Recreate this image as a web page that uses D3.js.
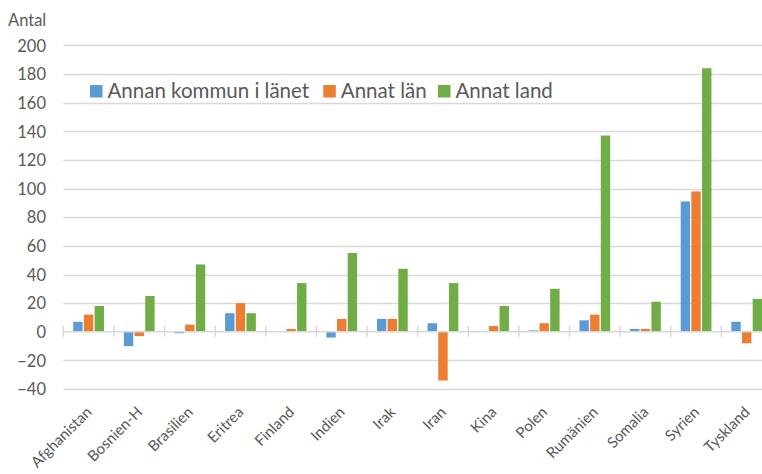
<!DOCTYPE html>
<html><head><meta charset="utf-8">
<script src="https://cdn.jsdelivr.net/npm/d3@7"></script>
<style>body{margin:0;background:#fff}svg{display:block}</style>
</head><body>
<svg id="c" width="762" height="474"></svg>
<script>
const categories = ["Afghanistan","Bosnien-H","Brasilien","Eritrea","Finland","Indien","Irak","Iran","Kina","Polen","Rumänien","Somalia","Syrien","Tyskland"];
const seriesNames = ["Annan kommun i länet","Annat län","Annat land"];
const annanKommun = [7,-10,-1,13,0,-4,9,6,0,1,8,2,91,7];
const annatLan =    [12,-3,5,20,2,9,9,-34,4,6,12,2,98,-8];
const annatLand =   [18,25,47,13,34,55,44,34,18,30,137,21,184,23];
const yTicks = [-40,-20,0,20,40,60,80,100,120,140,160,180,200];
const colors = ["#5B9BD5","#ED7D31","#70AD47"];
const seriesValues = [annanKommun, annatLan, annatLand];

const svg = d3.select("#c");
const font = "Lato, 'Open Sans', sans-serif";
const textCol = "#595959";

const y = d3.scaleLinear().domain([-40,200]).range([389.1,45.3]);
const x = d3.scaleBand().domain(categories).range([63.3,772]).paddingInner(0).paddingOuter(0);
const xi = d3.scaleBand().domain(seriesNames).range([9.3, x.bandwidth()-9.3]).paddingInner(0.12).paddingOuter(0.06);

// gridlines
svg.append("g").selectAll("line").data(yTicks.filter(d=>d!==0)).join("line")
  .attr("x1",63.3).attr("x2",762).attr("y1",d=>Math.round(y(d))+0.5).attr("y2",d=>Math.round(y(d))+0.5)
  .attr("stroke","#D9D9D9").attr("stroke-width",1.3);

// y axis labels
const yAxis = d3.axisLeft(y).tickValues(yTicks).tickSize(0).tickPadding(0);
const ya = svg.append("g").attr("transform","translate(46,0)").call(yAxis);
ya.select(".domain").remove();
ya.selectAll("text").attr("font-family",font).attr("font-size",16.5).attr("fill",textCol).attr("dy","0.35em");

svg.append("text").attr("x",8).attr("y",26).text("Antal")
  .attr("font-family",font).attr("font-size",16.5).attr("fill",textCol);

// bars
const data = [];
categories.forEach((c,i)=>seriesNames.forEach((s,j)=>data.push({c,s,j,v:seriesValues[j][i]})));
svg.append("g").selectAll("rect").data(data).join("rect")
  .attr("x",d=>x(d.c)+xi(d.s)).attr("width",xi.bandwidth())
  .attr("y",d=>y(Math.max(0,d.v))).attr("height",d=>Math.abs(y(d.v)-y(0)))
  .attr("fill",d=>colors[d.j]);

// zero axis with ticks
const xAxis = d3.axisBottom(x).tickSize(0).tickFormat("");
const xa = svg.append("g").attr("transform",`translate(0,${y(0)})`).call(xAxis);
xa.select(".domain").remove();
svg.append("line").attr("x1",63.3).attr("x2",762).attr("y1",y(0)).attr("y2",y(0))
  .attr("stroke","#D9D9D9").attr("stroke-width",1.6);
svg.append("g").selectAll("line").data(categories).join("line")
  .attr("x1",d=>x(d)).attr("x2",d=>x(d)).attr("y1",y(0)-6).attr("y2",y(0)+5)
  .attr("stroke","#D9D9D9").attr("stroke-width",1.5);

// category labels
svg.append("g").selectAll("text").data(categories).join("text")
  .attr("transform",d=>`translate(${x(d)+x.bandwidth()/2+4},${413}) rotate(-45)`)
  .attr("text-anchor","end")
  .attr("font-family",font).attr("font-size",15).attr("fill",textCol)
  .text(d=>d);

// legend
const legendX = [90,323.3,438];
const lg = svg.append("g");
seriesNames.forEach((s,j)=>{
  lg.append("rect").attr("x",legendX[j]).attr("y",85).attr("width",12.5).attr("height",12.5).attr("fill",colors[j]);
  lg.append("text").attr("x",legendX[j]+17.5).attr("y",98).text(s)
    .attr("font-family",font).attr("font-size",20.5).attr("fill",textCol);
});
</script>
</body></html>
